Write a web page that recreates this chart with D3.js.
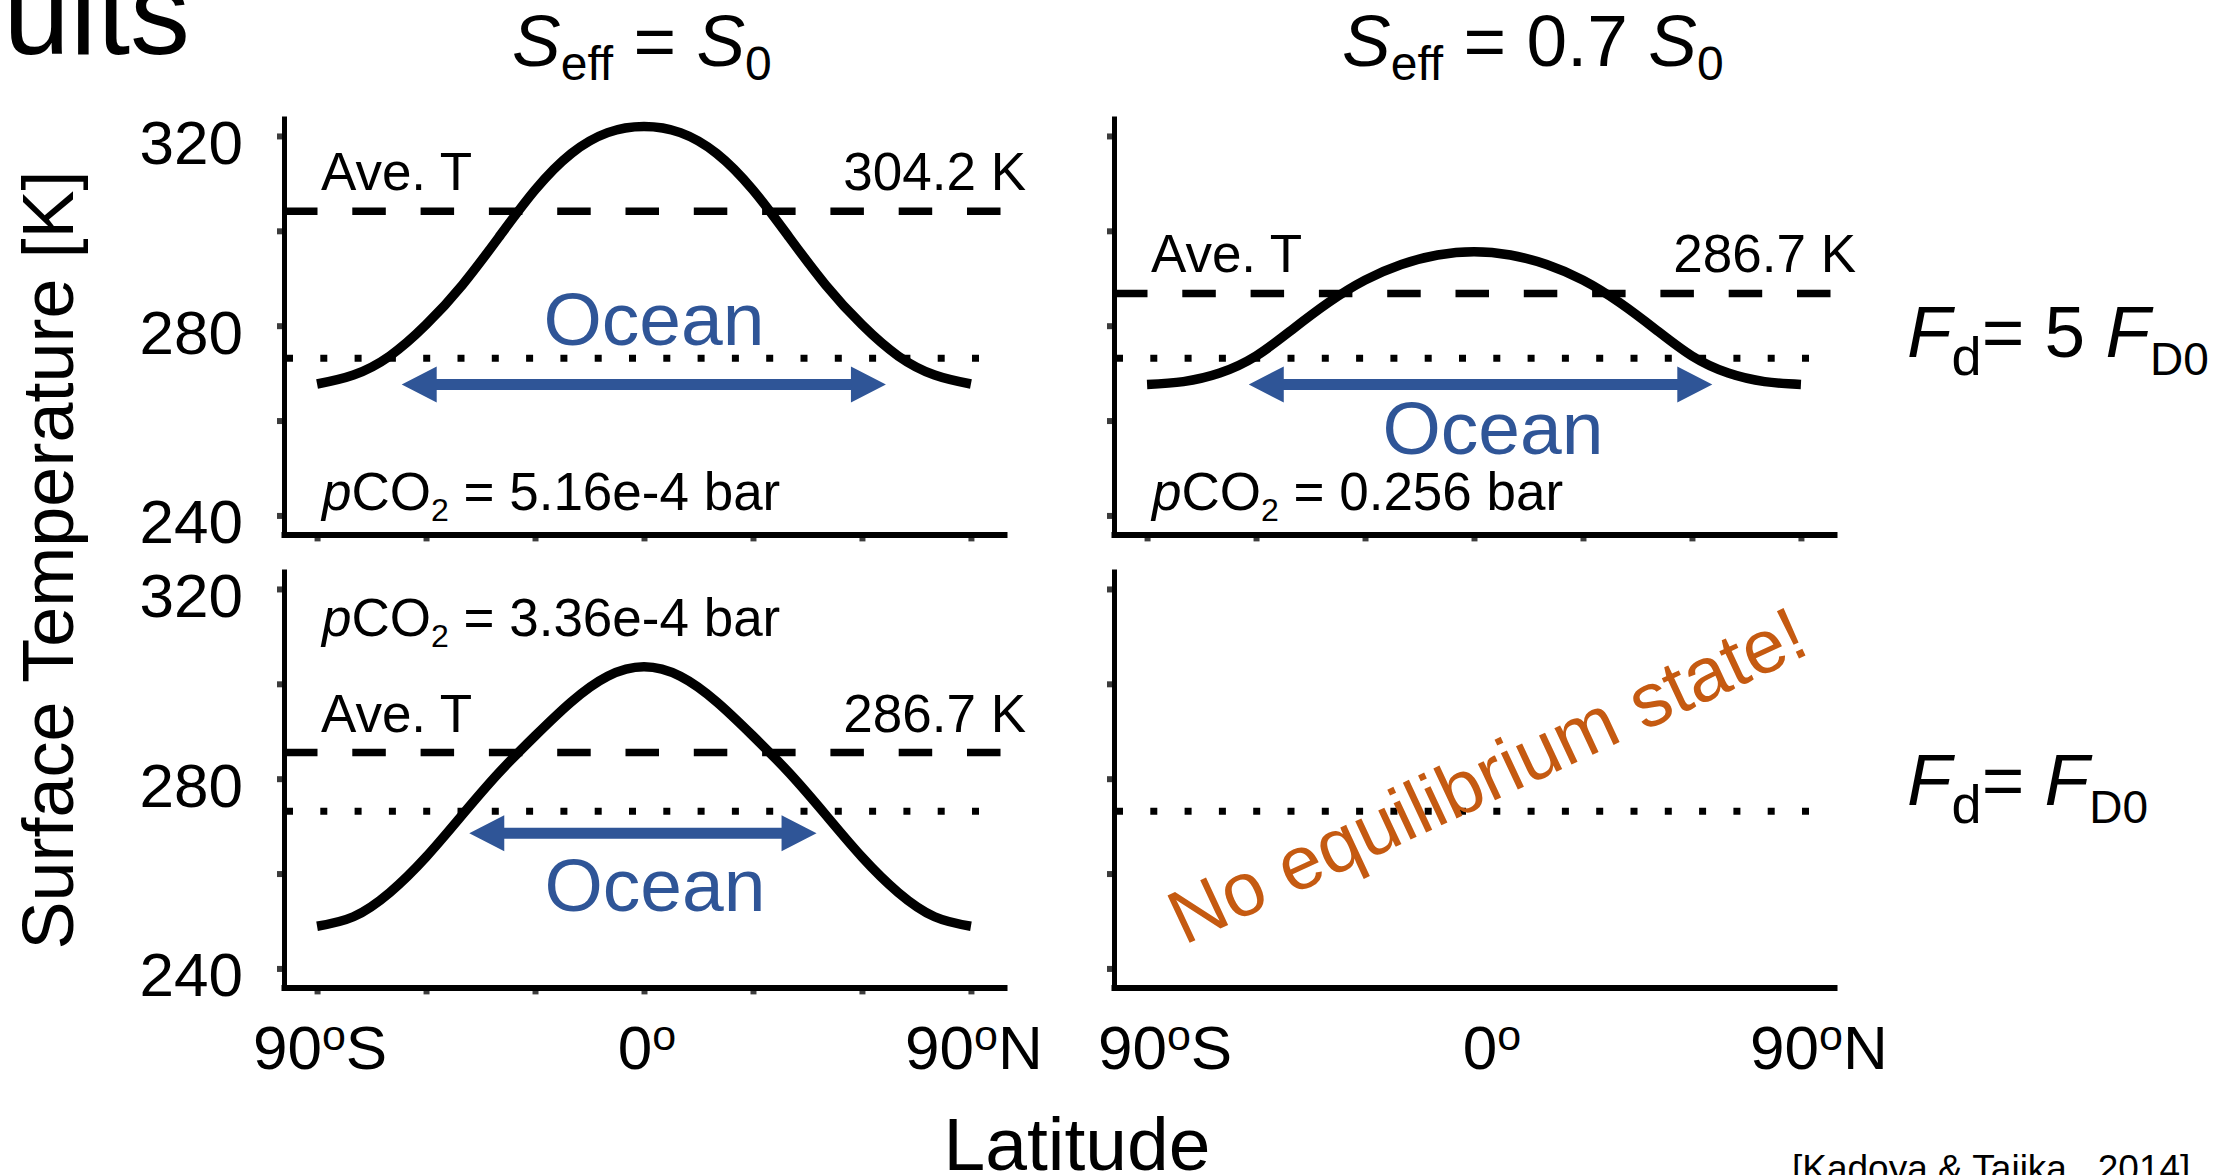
<!DOCTYPE html>
<html>
<head>
<meta charset="utf-8">
<script src="https://cdn.jsdelivr.net/npm/d3@7"></script>
<style>
  body { margin: 0; background: #fff; }
  svg { display: block; font-family: "Liberation Sans", Arial, Helvetica, sans-serif; }
</style>
</head>
<body>
<svg id="chart" width="2235" height="1175"></svg>
<script>
// latitude samples [deg] for the temperature profiles
var latitude = [-90, -80, -70, -60, -50, -40, -30, -20, -10, 0, 10, 20, 30, 40, 50, 60, 70, 80, 90];

// surface temperature [K]
var tempS0Fd5   = [267.7, 269.6, 273.6, 280.2, 288.6, 298.6, 308.6, 316.3, 320.7, 322.0, 320.7, 316.3, 308.6, 298.6, 288.6, 280.2, 273.6, 269.6, 267.7];
var tempS07Fd5  = [267.6, 268.2, 270.0, 273.6, 279.2, 284.9, 289.6, 292.9, 294.9, 295.6, 294.9, 292.9, 289.6, 284.9, 279.2, 273.6, 270.0, 268.2, 267.6];
var tempS0Fd1   = [248.9, 250.9, 256.0, 263.5, 272.4, 281.2, 289.0, 296.2, 301.6, 303.6, 301.6, 296.2, 289.0, 281.2, 272.4, 263.5, 256.0, 250.9, 248.9];

// average temperature lines and their labels
var aveTemp = [304.1, 286.8, 285.5];
var aveLabel = ["304.2 K", "286.7 K", "286.7 K"];
var pco2Label = ["5.16e-4 bar", "0.256 bar", "3.36e-4 bar"];
var freezing = 273.15;

// ocean extent (latitudes) and the temperature level of the arrow
var oceanLat = [[-66.7, 66.6], [-62.0, 65.6], [-48.1, 47.5]];
var oceanArrowT = [267.6, 267.6, 268.5];

var yTicks = [240, 260, 280, 300, 320];
var yTickLabels = [240, 280, 320];
var xTicks = [-90, -60, -30, 0, 30, 60, 90];
var xTickLabels = [[-90, "90", "S"], [0, "0", ""], [90, "90", "N"]];

var blue = "#2F5597", orange = "#C55A11";

var W = 720, H = 416;
var x = d3.scaleLinear().domain([-99.1, 99.1]).range([0, W]);
var y = d3.scaleLinear().domain([236, 323.7]).range([H, 0]);

var svg = d3.select("#chart");

// slide title (cut off at the top-left corner)
svg.append("text").attr("x", 190).attr("y", 54).attr("text-anchor", "end")
  .attr("font-size", 120).text("Results");

// layout of the four panels
var panels = [
  {left: 284,  top: 118.4, temps: tempS0Fd5,  k: 0, xLabels: false, xTicks: true, yLabels: true,
   pco2Y: 391.3, ocean: [370, 226.6], labDx: 0},
  {left: 1114, top: 118.4, temps: tempS07Fd5, k: 1, xLabels: false, xTicks: true, yLabels: false,
   pco2Y: 391.3, ocean: [379, 335.6], labDx: 18},
  {left: 284,  top: 571.4, temps: tempS0Fd1,  k: 2, xLabels: true, xTicks: true, yLabels: true,
   pco2Y: 65.1, ocean: [371, 339.6], labDx: 3},
  {left: 1114, top: 571.4, temps: null, k: -1, xLabels: true, xTicks: false, yLabels: false, labDx: 18}
];

var line = d3.line()
  .x(function(d) { return x(d[0]); })
  .y(function(d) { return y(d[1]); })
  .curve(d3.curveNatural);

panels.forEach(function(p) {
  var g = svg.append("g").attr("transform", "translate(" + p.left + "," + p.top + ")");

  // freezing line (dotted)
  g.append("line")
    .attr("x1", x.range()[0]).attr("x2", x.range()[1])
    .attr("y1", y(freezing)).attr("y2", y(freezing))
    .attr("stroke", "#000").attr("stroke-width", 7)
    .attr("stroke-dasharray", "7,27.3").attr("stroke-dashoffset", -2);

  if (p.k >= 0) {
    // average temperature (dashed)
    g.append("line")
      .attr("x1", x.range()[0]).attr("x2", x.range()[1])
      .attr("y1", y(aveTemp[p.k])).attr("y2", y(aveTemp[p.k]))
      .attr("stroke", "#000").attr("stroke-width", 7.5)
      .attr("stroke-dasharray", "33.5,34.8");

    g.append("text").attr("x", 37).attr("y", y(aveTemp[p.k]) - 21)
      .attr("font-size", 53).text("Ave. T");
    g.append("text").attr("x", 742).attr("y", y(aveTemp[p.k]) - 21)
      .attr("text-anchor", "end").attr("font-size", 53).text(aveLabel[p.k]);

    // pCO2 label
    var t = g.append("text").attr("x", 38).attr("y", p.pco2Y).attr("font-size", 53);
    t.append("tspan").attr("font-style", "italic").text("p");
    t.append("tspan").text("CO");
    t.append("tspan").attr("font-size", 32).attr("dy", 11).text("2");
    t.append("tspan").attr("dy", -11).text(" = " + pco2Label[p.k]);

    // temperature profile
    var pts = latitude.map(function(lat, i) { return [lat, p.temps[i]]; });
    g.append("path").datum(pts).attr("d", line)
      .attr("fill", "none").attr("stroke", "#000").attr("stroke-width", 9.5);

    // ocean arrow
    var xl = x(oceanLat[p.k][0]), xr = x(oceanLat[p.k][1]), cy = y(oceanArrowT[p.k]);
    var hl = 35, hh = 18, hs = 5.6;
    var d = "M" + xl + "," + cy +
      "L" + (xl + hl) + "," + (cy - hh) + "L" + (xl + hl) + "," + (cy - hs) +
      "L" + (xr - hl) + "," + (cy - hs) + "L" + (xr - hl) + "," + (cy - hh) +
      "L" + xr + "," + cy +
      "L" + (xr - hl) + "," + (cy + hh) + "L" + (xr - hl) + "," + (cy + hs) +
      "L" + (xl + hl) + "," + (cy + hs) + "L" + (xl + hl) + "," + (cy + hh) + "Z";
    g.append("path").attr("d", d).attr("fill", blue);

    g.append("text").attr("x", p.ocean[0]).attr("y", p.ocean[1])
      .attr("text-anchor", "middle").attr("font-size", 75).attr("fill", blue).text("Ocean");
  } else {
    g.append("text")
      .attr("transform", "translate(70,374) rotate(-25)")
      .attr("font-size", 76).attr("fill", orange).text("No equilibrium state!");
  }

  // axes
  var ya = g.append("g").call(d3.axisLeft(y).tickValues(yTicks).tickSize(7).tickSizeOuter(0).tickFormat(""));
  var xa = g.append("g").attr("transform", "translate(0," + H + ")")
    .call(d3.axisBottom(x).tickValues(p.xTicks ? xTicks : []).tickSize(7).tickSizeOuter(0).tickFormat(""));
  [ya, xa].forEach(function(a) {
    a.selectAll(".tick line").attr("stroke", "#3c3c3c").attr("stroke-width", 6);
    a.select(".domain").raise().attr("stroke", "#000").attr("stroke-linecap", "square");
  });
  ya.select(".domain").attr("stroke-width", 5);
  xa.select(".domain").attr("stroke-width", 6);

  if (p.yLabels) {
    g.selectAll(".ylab").data(yTickLabels).enter().append("text")
      .attr("x", -41).attr("y", function(v) { return y(v); }).attr("dy", "0.45em")
      .attr("text-anchor", "end").attr("font-size", 62).text(function(v) { return v; });
  }
  if (p.xLabels) {
    xTickLabels.forEach(function(l) {
      var tx = g.append("text").attr("x", x(l[0]) + p.labDx).attr("y", H + 82)
        .attr("text-anchor", "middle").attr("font-size", 62);
      tx.append("tspan").text(l[1]);
      tx.append("tspan").attr("font-size", 43).attr("dy", -19).text("o");
      tx.append("tspan").attr("dy", 19).text(l[2]);
    });
  }
});

// column titles
function title(x0, mid) {
  var t = svg.append("text").attr("x", x0).attr("y", 66).attr("font-size", 73);
  t.append("tspan").attr("font-style", "italic").text("S");
  t.append("tspan").attr("font-size", 48).attr("dy", 14).text("eff");
  t.append("tspan").attr("dy", -14).text(" = " + mid);
  t.append("tspan").attr("font-style", "italic").text("S");
  t.append("tspan").attr("font-size", 48).attr("dy", 14).text("0");
}
title(512, "");
title(1342, "0.7 ");

// row labels
function rowLabel(yb, mid) {
  var t = svg.append("text").attr("x", 1907).attr("y", yb).attr("font-size", 73);
  t.append("tspan").attr("font-style", "italic").text("F");
  t.append("tspan").attr("font-size", 54).attr("dy", 18).text("d");
  t.append("tspan").attr("dy", -18).text("= " + mid);
  t.append("tspan").attr("font-style", "italic").text("F");
  t.append("tspan").attr("font-size", 46).attr("dy", 18).text("D0");
}
rowLabel(356.5, "5 ");
rowLabel(805, "");

// axis titles
svg.append("text").attr("transform", "translate(73,560) rotate(-90)")
  .attr("text-anchor", "middle").attr("font-size", 72).text("Surface Temperature [K]");
svg.append("text").attr("x", 1077).attr("y", 1170)
  .attr("text-anchor", "middle").attr("font-size", 75).text("Latitude");

// citation (cut off at the bottom)
svg.append("text").attr("x", 1792).attr("y", 1181)
  .attr("font-size", 37).attr("xml:space", "preserve").text("[Kadoya & Tajika,  2014]");
</script>
</body>
</html>
